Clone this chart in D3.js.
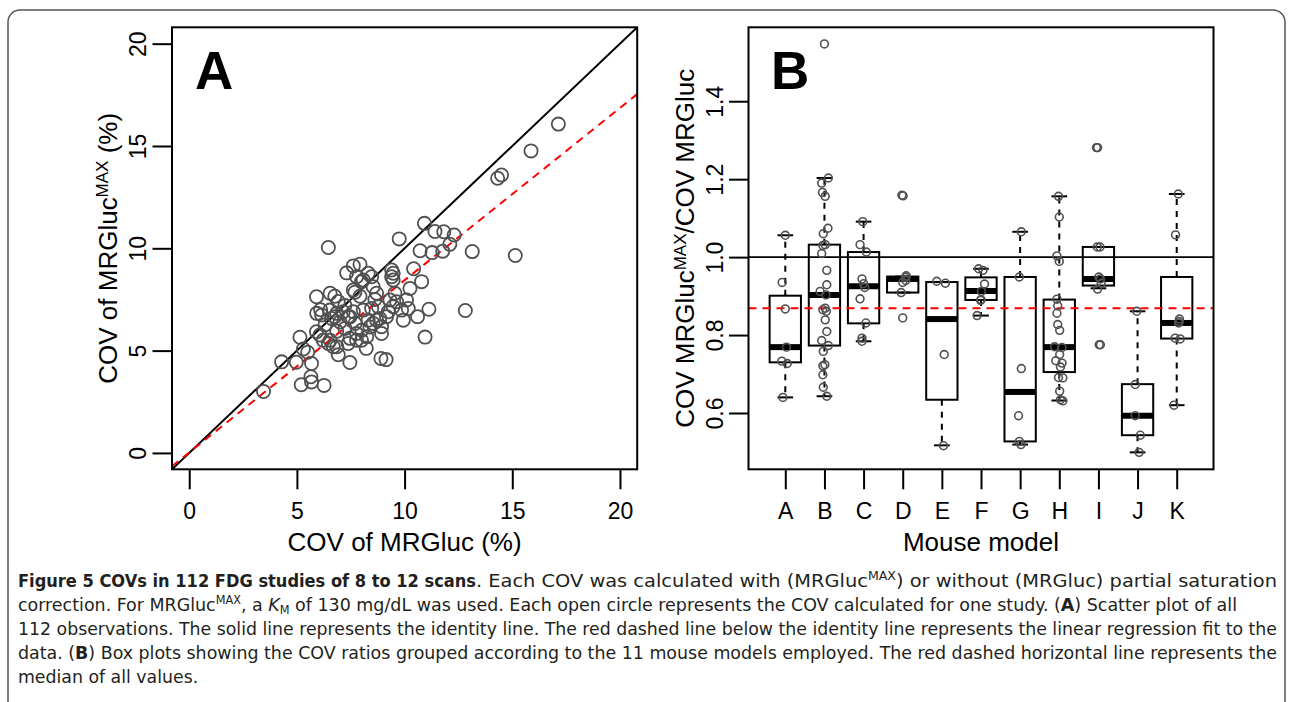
<!DOCTYPE html>
<html><head><meta charset="utf-8">
<script src="https://cdn.jsdelivr.net/npm/d3@7"></script>
<style>body{margin:0;background:#fff}svg{display:block}</style>
</head><body>
<svg id="fig" width="1292" height="702"></svg>
<script>
// ---------- Panel A data: COV of MRGluc (x) vs COV of MRGluc^MAX (y), % ----------
const covX = [3.45,4.29,4.97,5.14,5.20,5.68,5.65,6.26,5.68,5.30,5.50,6.46,7.46,8.22,8.90,9.14,10.95,11.13,12.82,15.14,
  13.14,10.92,9.75,11.41,11.82,12.30,10.72,11.28,11.77,12.10,14.32,14.50,15.87,17.14,10.42,10.79,10.25,10.60,5.91,5.92,
  6.10,6.15,5.91,6.07,6.22,6.46,6.69,6.92,6.54,6.76,6.92,6.53,6.76,7.00,7.15,7.38,7.62,7.23,7.46,7.38,
  7.77,8.00,7.31,7.62,7.93,7.77,8.00,8.31,8.47,7.69,7.93,8.54,8.70,8.08,8.31,8.54,8.47,8.78,8.85,8.93,
  8.93,9.16,9.32,9.40,9.40,9.47,9.47,9.55,9.63,9.47,9.24,9.86,9.94,10.09,10.17,6.30,6.61,6.85,6.85,7.46,
  7.70,6.54,6.85,7.77,8.01,8.24,8.39,8.70,8.08,7.62,8.62,7.23];
const covY = [3.00,4.45,4.43,5.65,3.33,3.47,3.72,3.30,4.37,5.08,4.92,10.04,4.42,5.11,4.62,4.56,5.66,7.02,6.96,9.65,
  9.84,11.22,10.46,10.82,10.81,10.65,9.88,9.79,9.86,10.20,13.42,13.58,14.76,16.07,9.00,8.37,8.04,6.66,7.63,6.82,
  7.00,6.74,5.92,5.76,5.51,5.35,5.19,4.80,7.80,7.66,7.40,6.98,6.66,6.40,6.90,6.66,6.90,6.08,5.60,5.35,
  5.84,5.51,8.80,9.14,9.22,8.61,8.37,8.78,8.61,7.85,7.66,8.12,7.80,6.98,6.49,6.33,7.06,7.15,6.57,6.17,
  5.84,6.66,7.47,8.61,8.94,8.78,8.45,7.80,7.39,7.15,6.90,6.98,6.49,7.47,7.06,6.25,6.57,6.82,5.95,6.65,
  6.33,5.51,5.19,5.51,6.00,5.68,6.16,6.49,8.45,7.96,7.50,7.20];
const ticksA = [0, 5, 10, 15, 20];
const regression = [0.02, 0.842]; // intercept, slope

// ---------- Panel B data: COV ratio per mouse model ----------
const models = ["A","B","C","D","E","F","G","H","I","J","K"];
const ratioA = [1.056,0.935,0.867,0.769,0.733,0.727,0.640];
const ratioB = [1.547,1.203,1.190,1.166,1.156,1.074,1.060,1.032,1.030,1.009,0.966,0.929,0.912,0.903,0.869,0.865,0.861,0.839,0.809,0.786,0.773,0.758,0.724,0.721,0.698,0.666,0.643];
const ratioC = [1.091,1.032,1.013,0.944,0.932,0.922,0.893,0.831,0.792,0.784];
const ratioD = [1.159,1.157,0.952,0.948,0.940,0.935,0.909,0.844];
const ratioE = [0.938,0.933,0.750,0.516];
const ratioF = [0.970,0.966,0.931,0.912,0.891,0.889,0.850];
const ratioG = [1.065,0.949,0.714,0.593,0.527,0.519];
const ratioH = [1.156,1.103,1.003,0.989,0.892,0.875,0.856,0.827,0.812,0.770,0.768,0.750,0.734,0.728,0.718,0.691,0.690,0.656,0.634,0.631];
const ratioI = [1.281,1.281,1.026,1.026,0.949,0.944,0.933,0.918,0.775,0.775];
const ratioJ = [0.861,0.673,0.593,0.543,0.499];
const ratioK = [1.162,1.057,0.841,0.835,0.831,0.792,0.790,0.620];
// horizontal jitter of each point (in category units)
const jitterA = [0,-0.08,0,0.03,-0.09,0.05,-0.06];
const jitterB = [0,0.10,-0.07,-0.05,0.02,0.09,-0.03,0.02,-0.04,-0.07,0.06,0.06,-0.11,0.04,0.02,-0.04,0.05,0.02,0.06,-0.07,0.10,-0.03,0.01,-0.04,-0.04,-0.03,0.06];
const jitterC = [-0.02,-0.09,0.07,-0.04,0,0.03,-0.09,0.06,-0.04,-0.04];
const jitterD = [-0.02,0.01,0.09,0.07,0.08,0,-0.04,0];
const jitterE = [-0.13,0.09,0.06,0.04];
const jitterF = [-0.06,0.05,0.09,0.01,0,-0.01,-0.10];
const jitterG = [0.03,-0.02,0.03,-0.04,-0.02,0.02];
const jitterH = [-0.02,0,-0.06,0,-0.06,-0.04,-0.06,-0.04,0.01,-0.12,0.07,0.01,-0.09,0.07,0.03,-0.02,0.09,0.01,0.03,0.09];
const jitterI = [-0.05,-0.02,-0.03,0.04,0.01,0.05,0.07,-0.02,0.05,0.02];
const jitterJ = [-0.02,-0.06,-0.06,0.07,0.04];
const jitterK = [0.04,-0.03,0.07,0.06,0.05,-0.04,0.09,-0.07];
// box-plot summaries
const whiskLow  = [0.640,0.643,0.784,0.909,0.517,0.850,0.519,0.632,0.920,0.499,0.620];
const boxQ1     = [0.730,0.773,0.830,0.909,0.634,0.890,0.527,0.705,0.927,0.543,0.791];
const boxMedian = [0.769,0.903,0.925,0.944,0.841,0.913,0.654,0.769,0.944,0.593,0.831];
const boxQ3     = [0.901,1.032,1.013,0.950,0.936,0.948,0.949,0.891,1.026,0.674,0.949];
const whiskHigh = [1.056,1.203,1.091,0.950,0.936,0.970,1.065,1.156,1.026,0.861,1.162];
const ticksB = [0.6, 0.8, 1.0, 1.2, 1.4];
const refLine = 1.0, medianAll = 0.869;

const ratios = [ratioA,ratioB,ratioC,ratioD,ratioE,ratioF,ratioG,ratioH,ratioI,ratioJ,ratioK];
const jitters = [jitterA,jitterB,jitterC,jitterD,jitterE,jitterF,jitterG,jitterH,jitterI,jitterJ,jitterK];

// ---------- drawing ----------
const svg = d3.select("#fig");
const FONT = "'Liberation Sans', Arial, Helvetica, sans-serif";
const plotTop = 27.3, plotBottom = 469.3;

svg.append("rect").attr("x",8).attr("y",10).attr("width",1277).attr("height",760)
  .attr("rx",12).attr("fill","none").attr("stroke","#555").attr("stroke-width",1.5);

function styleAxes(g){
  g.select(".domain").remove();
  g.selectAll(".tick line").attr("stroke","#000").attr("stroke-width",2);
  g.selectAll(".tick text").attr("fill","#000").attr("font-family",FONT).attr("font-size",23);
}

// Panel A
const xA = d3.scaleLinear().domain([-0.8,20.8]).range([172,637.2]);
const yA = d3.scaleLinear().domain([-0.8,20.8]).range([plotBottom,plotTop]);
const gA = svg.append("g");
svg.append("clipPath").attr("id","clipA").append("rect")
  .attr("x",172).attr("y",plotTop).attr("width",465.2).attr("height",plotBottom-plotTop);

const axBA = gA.append("g").attr("transform",`translate(0,${plotBottom})`)
  .call(d3.axisBottom(xA).tickValues(ticksA).tickSize(20).tickFormat(d3.format("d")));
styleAxes(axBA);
axBA.selectAll(".tick text").attr("y",50).attr("dy",null);
const axLA = gA.append("g").attr("transform","translate(172,0)")
  .call(d3.axisLeft(yA).tickValues(ticksA).tickSize(19.5).tickFormat(d3.format("d")));
styleAxes(axLA);
axLA.selectAll(".tick text").attr("x",null).attr("dy",null).attr("text-anchor","middle")
  .attr("transform","translate(-26,0) rotate(-90)");

const clipped = gA.append("g").attr("clip-path","url(#clipA)");
clipped.append("line").attr("x1",xA(-0.8)).attr("y1",yA(-0.8)).attr("x2",xA(20.8)).attr("y2",yA(20.8))
  .attr("stroke","#000").attr("stroke-width",2);
clipped.append("line").attr("x1",xA(-0.8)).attr("y1",yA(regression[0]+regression[1]*-0.8))
  .attr("x2",xA(20.8)).attr("y2",yA(regression[0]+regression[1]*20.8))
  .attr("stroke","#ff0000").attr("stroke-width",2).attr("stroke-dasharray","8,6");
clipped.selectAll("circle").data(d3.range(covX.length)).join("circle")
  .attr("cx",i=>xA(covX[i])).attr("cy",i=>yA(covY[i])).attr("r",6.6)
  .attr("fill","none").attr("stroke","#505050").attr("stroke-width",1.8);
gA.append("rect").attr("x",172).attr("y",plotTop).attr("width",465.2).attr("height",plotBottom-plotTop)
  .attr("fill","none").attr("stroke","#000").attr("stroke-width",2);
gA.append("text").attr("x",195).attr("y",88.7).attr("font-family",FONT).attr("font-weight","bold")
  .attr("font-size",53).text("A");
gA.append("text").attr("x",(172+637.2)/2).attr("y",550.5).attr("text-anchor","middle")
  .attr("font-family",FONT).attr("font-size",26).text("COV of MRGluc (%)");
const tA = gA.append("text").attr("transform",`translate(116.7,${(plotTop+plotBottom)/2}) rotate(-90)`)
  .attr("text-anchor","middle").attr("font-family",FONT).attr("font-size",26);
tA.append("tspan").text("COV of MRGluc");
tA.append("tspan").attr("font-size",17).attr("dy",-8.5).text("MAX");
tA.append("tspan").attr("dy",8.5).text(" (%)");

// Panel B
const xB = d3.scaleLinear().domain([0.06,11.94]).range([748.5,1213.5]);
const yB = d3.scaleLinear().domain([0.4555,1.5897]).range([plotBottom,plotTop]);
const bw = xB(0.8)-xB(0);
const gB = svg.append("g");
const axBB = gB.append("g").attr("transform",`translate(0,${plotBottom})`)
  .call(d3.axisBottom(xB).tickValues(d3.range(1,12)).tickSize(20).tickFormat(i=>models[i-1]));
styleAxes(axBB);
axBB.selectAll(".tick text").attr("y",50).attr("dy",null);
const axLB = gB.append("g").attr("transform","translate(748.5,0)")
  .call(d3.axisLeft(yB).tickValues(ticksB).tickSize(19.5).tickFormat(d3.format(".1f")));
styleAxes(axLB);
axLB.selectAll(".tick text").attr("x",null).attr("dy",null).attr("text-anchor","middle")
  .attr("transform","translate(-26,0) rotate(-90)");

const boxes = gB.append("g");
models.forEach((m,i)=>{
  const cx = xB(i+1);
  const g = boxes.append("g");
  g.append("line").attr("x1",cx).attr("x2",cx).attr("y1",yB(boxQ3[i])).attr("y2",yB(whiskHigh[i]))
    .attr("stroke","#000").attr("stroke-width",2).attr("stroke-dasharray","6,6");
  g.append("line").attr("x1",cx).attr("x2",cx).attr("y1",yB(boxQ1[i])).attr("y2",yB(whiskLow[i]))
    .attr("stroke","#000").attr("stroke-width",2).attr("stroke-dasharray","6,6");
  [whiskHigh[i], whiskLow[i]].forEach(v=>{
    g.append("line").attr("x1",cx-bw/4).attr("x2",cx+bw/4).attr("y1",yB(v)).attr("y2",yB(v))
      .attr("stroke","#000").attr("stroke-width",2);
  });
  g.append("rect").attr("x",cx-bw/2).attr("width",bw).attr("y",yB(boxQ3[i]))
    .attr("height",yB(boxQ1[i])-yB(boxQ3[i])).attr("fill","none").attr("stroke","#000").attr("stroke-width",2);
  g.append("line").attr("x1",cx-bw/2).attr("x2",cx+bw/2).attr("y1",yB(boxMedian[i])).attr("y2",yB(boxMedian[i]))
    .attr("stroke","#000").attr("stroke-width",6);
});
gB.append("line").attr("x1",748.5).attr("x2",1213.5).attr("y1",yB(refLine)).attr("y2",yB(refLine))
  .attr("stroke","#000").attr("stroke-width",1.6);
gB.append("line").attr("x1",748.5).attr("x2",1213.5).attr("y1",yB(medianAll)).attr("y2",yB(medianAll))
  .attr("stroke","#ff0000").attr("stroke-width",2).attr("stroke-dasharray","8,6");
const pts = [];
ratios.forEach((arr,i)=>arr.forEach((v,j)=>pts.push({g:i+1, v, j:jitters[i][j]})));
gB.append("g").selectAll("circle").data(pts).join("circle")
  .attr("cx",d=>xB(d.g+d.j)).attr("cy",d=>yB(d.v)).attr("r",3.9)
  .attr("fill","none").attr("stroke","#505050").attr("stroke-width",1.6);
gB.append("rect").attr("x",748.5).attr("y",plotTop).attr("width",465).attr("height",plotBottom-plotTop)
  .attr("fill","none").attr("stroke","#000").attr("stroke-width",2);
gB.append("text").attr("x",771).attr("y",88.7).attr("font-family",FONT).attr("font-weight","bold")
  .attr("font-size",53).text("B");
gB.append("text").attr("x",981).attr("y",550.5).attr("text-anchor","middle")
  .attr("font-family",FONT).attr("font-size",26).text("Mouse model");
const tB = gB.append("text").attr("transform",`translate(694,${(plotTop+plotBottom)/2}) rotate(-90)`)
  .attr("text-anchor","middle").attr("font-family",FONT).attr("font-size",26);
tB.append("tspan").text("COV MRGluc");
tB.append("tspan").attr("font-size",17).attr("dy",-8.5).text("MAX");
tB.append("tspan").attr("dy",8.5).text("/COV MRGluc");

// ---------- caption ----------
const CAP = "'Liberation Sans Narrow','DejaVu Sans Condensed',Roboto,Arial,sans-serif";
const capSize = 18.5;
// each line: segments [x, width, parts]; width null = natural width * common squeeze
const capLines = [
  {y:587, segs:[[18,458,[["b","Figure 5 COVs in 112 FDG studies of 8 to 12 scans"]]],
                [476,801,[["n",". Each COV was calculated with (MRGluc"],["sup","MAX"],["n",") or without (MRGluc) partial saturation"]]]]},
  {y:611, segs:[[18,1219,[["n","correction. For MRGluc"],["sup","MAX"],["n",", a "],["i","K"],["sub","M"],["n"," of 130 mg/dL was used. Each open circle represents the COV calculated for one study. ("],["b","A"],["n",") Scatter plot of all"]]]]},
  {y:635, segs:[[18,1259,[["n","112 observations. The solid line represents the identity line. The red dashed line below the identity line represents the linear regression fit to the"]]]]},
  {y:659, segs:[[18,1259,[["n","data. ("],["b","B"],["n",") Box plots showing the COV ratios grouped according to the 11 mouse models employed. The red dashed horizontal line represents the"]]]]},
  {y:683, segs:[[18,null,[["n","median of all values."]]]]}
];
const made = [];
capLines.forEach((L,li)=>{
  L.segs.forEach(([sx,sw,parts],si)=>{
    const t = svg.append("text").attr("x",sx).attr("y",L.y).attr("font-family",CAP)
      .attr("font-size",capSize).attr("fill","#231f20");
    let shift = 0;
    parts.forEach(([k,s])=>{
      const sp = t.append("tspan").text(s);
      let target = 0;
      if(k==="b") sp.attr("font-weight","bold");
      if(k==="i") sp.attr("font-style","italic");
      if(k==="sup"){ sp.attr("font-size",12); target = -7; }
      if(k==="sub"){ sp.attr("font-size",12); target = 3; }
      if(target!==shift){ sp.attr("dy",target-shift); shift = target; }
    });
    made.push({t, sw, li, natural: t.node().getComputedTextLength()});
  });
});
// common horizontal squeeze taken from the full justified line (line 3)
const refSeg = made.find(m=>m.li===2);
const squeeze = refSeg.sw / refSeg.natural;
made.forEach(m=>{
  m.t.attr("textLength", m.sw===null ? m.natural*squeeze : m.sw).attr("lengthAdjust","spacingAndGlyphs");
});
</script>
</body></html>
